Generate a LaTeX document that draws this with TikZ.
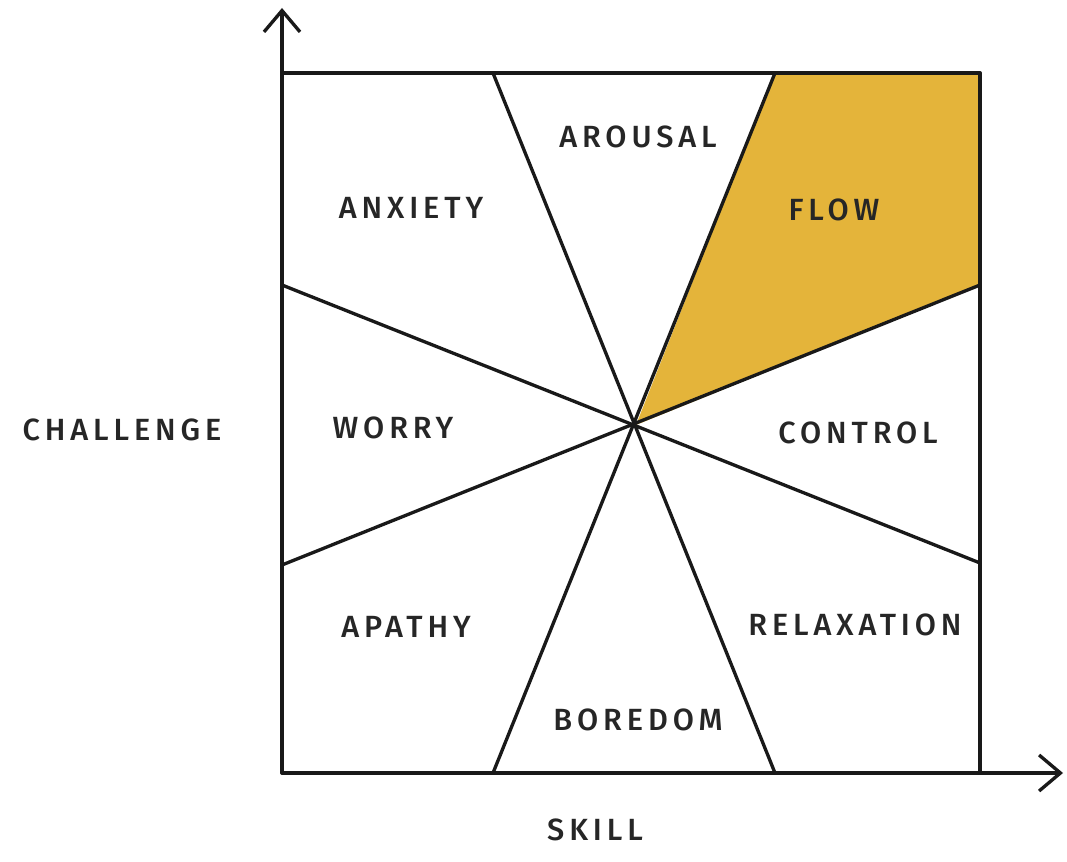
\documentclass[tikz,border=0pt]{standalone}
\usepackage{fontspec}
\setmainfont{Fira Sans}[LetterSpace=16, UprightFont={* Medium}]
\usetikzlibrary{arrows.meta}
\definecolor{flowgold}{HTML}{E4B43A}
\tikzset{
  ln/.style={line width=2.5pt, black!90, line join=round, line cap=round},
  axis/.style={ln, -{Straight Barb[length=16pt,width=27pt,line width=2.5pt]}},
  lbl/.style={font=\fontsize{23}{26}\selectfont, text=black!85, inner sep=0pt},
}
\begin{document}
\begin{tikzpicture}[x=0.75pt,y=-0.75pt]
\useasboundingbox (0,0) rectangle (1067,862);
\fill[white] (0,0) rectangle (1067,862);
% corners and points
\coordinate (O) at (282,773);
\coordinate (TL) at (282,73);
\coordinate (TR) at (980,73);
\coordinate (BR) at (980,773);
\coordinate (C) at (636,425);
\coordinate (t1) at (493,73);
\coordinate (t2) at (775,73);
\coordinate (b1) at (493,773);
\coordinate (b2) at (775,773);
\coordinate (l1) at (282,285);
\coordinate (l2) at (282,565);
\coordinate (r1) at (980,285);
\coordinate (r2) at (980,563);
\coordinate (ytip) at (282,8);
\coordinate (xtip) at (1063,773);
% flow region
\fill[flowgold] (t2) -- (TR) -- (r1) -- (C) -- cycle;
% frame
\draw[ln] (TL) -- (TR) -- (BR);
\draw[axis] (O) -- (ytip);
\draw[axis] (O) -- (xtip);
% rays
\draw[ln] (t1) -- (b2);
\draw[ln] (t2) -- (b1);
\draw[ln] (l1) -- (r2);
\draw[ln] (l2) -- (r1);
% labels
\node[lbl] (arousal) at (638,137) {AROUSAL};
\node[lbl] (anxiety) at (411,208) {ANXIETY};
\node[lbl] (flow) at (834,210) {FLOW};
\node[lbl] (worry) at (393,428) {WORRY};
\node[lbl] (control) at (858,433) {CONTROL};
\node[lbl] (challenge) at (122,430) {CHALLENGE};
\node[lbl] (apathy) at (406,627) {APATHY};
\node[lbl] (relax) at (855,625) {RELAXATION};
\node[lbl] (boredom) at (638,720) {BOREDOM};
\node[lbl] (skill) at (595,830) {SKILL};
\end{tikzpicture}
\end{document}
